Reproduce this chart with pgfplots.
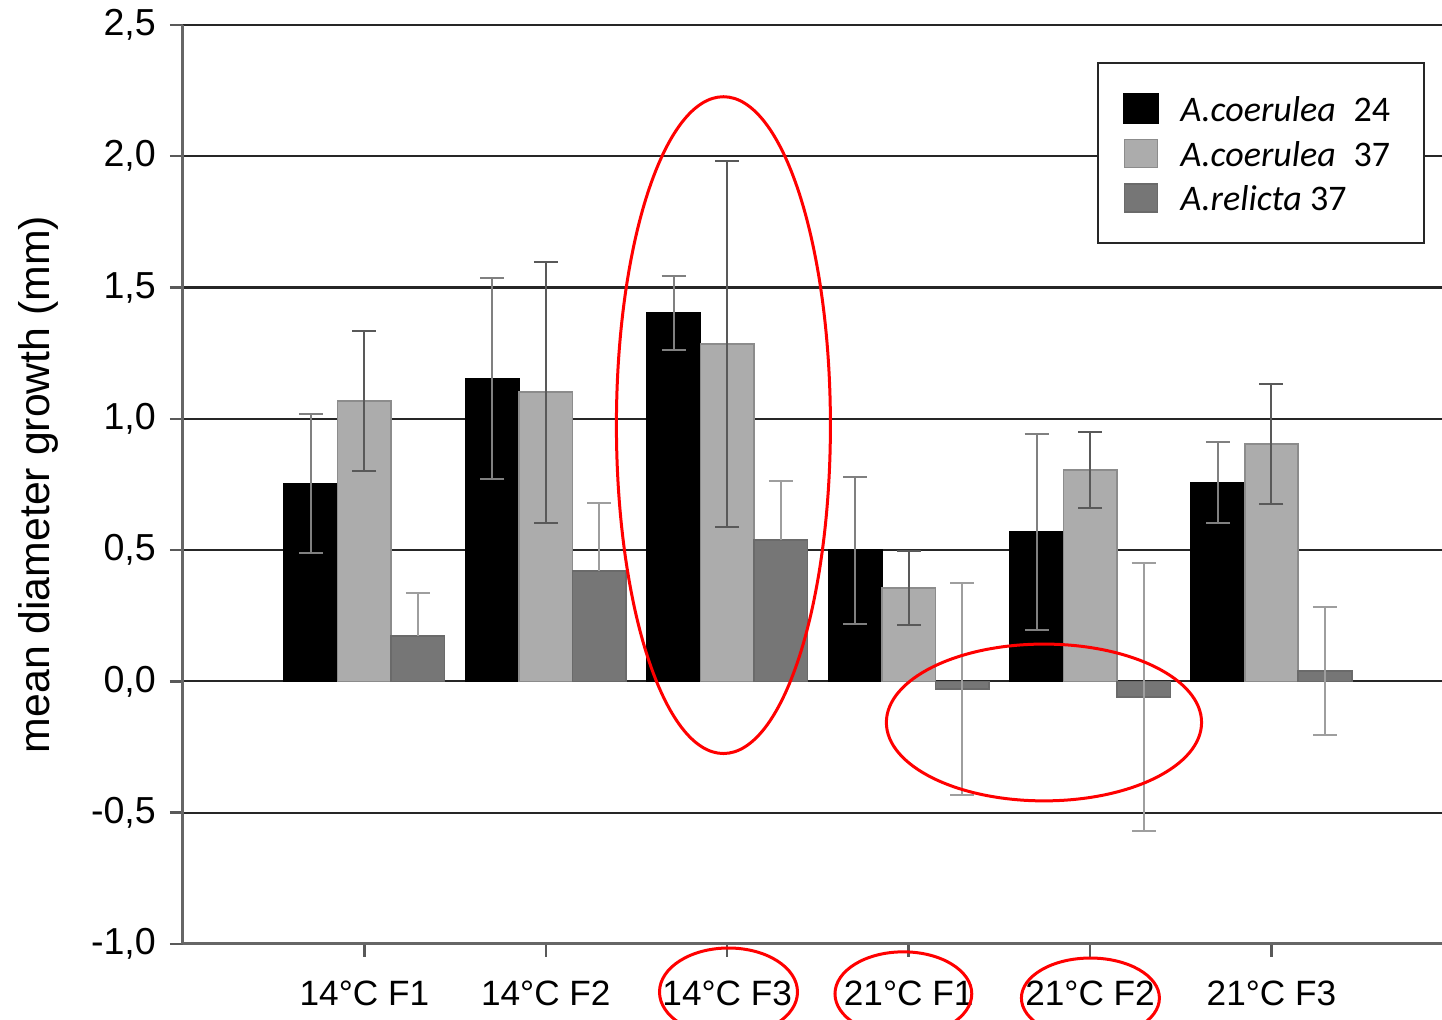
\documentclass[border=0pt]{standalone}
\usepackage{pgfplots}
\pgfplotsset{compat=1.18}
\usepackage{fontspec}
\setmainfont{Liberation Sans}
\newfontfamily\legfont{Carlito}
\definecolor{lg}{RGB}{172,172,172}
\definecolor{dg}{RGB}{118,118,118}
\pgfplotsset{
  mybar/.style={ybar, bar width=0.295, bar shift=0pt,
    legend image code/.code={\fill[##1] (0pt,-3.5pt) rectangle (8.25pt,3.5pt); \path (13.75pt,0pt);}},
}
\begin{document}
\begin{tikzpicture}[x=1pt,y=1pt]
\begin{axis}[
  scale only axis,
  width=314.75pt, height=229.75pt,
  xmin=-1, xmax=5.94,
  ymin=-1, ymax=2.5,
  axis lines*=left,
  axis line style={draw=black!60, line width=0.75pt},
  clip=false,
  ytick={-1,-0.5,0,0.5,1,1.5,2,2.5},
  ymajorgrids,
  major grid style={black!85, line width=0.55pt},
  xtick={0,1,2,3,4,5},
  xticklabels={14°C F1,14°C F2,14°C F3,21°C F1,21°C F2,21°C F3},
  tick align=outside,
  major tick length=3.25pt,
  tick style={black!65, line width=0.6pt},
  yticklabel style={font=\fontsize{9.4}{11}\selectfont,
    /pgf/number format/.cd, fixed, fixed zerofill, precision=1, use comma, assume math mode=true},
  xticklabel style={font=\fontsize{8.8}{11}\selectfont, yshift=-2.5pt},
  ylabel={mean diameter growth (mm)},
  ylabel style={font=\fontsize{10.7}{12}\selectfont, at={(axis description cs:-0.1152,0.5)}, anchor=center},
  legend style={at={(rel axis cs:0.726,0.9597)}, anchor=north west,
    draw=black!85, line width=0.6pt,
    font=\legfont\fontsize{9}{10}\selectfont,
    inner xsep=6.25pt, inner ysep=7.5pt, row sep=3.75pt,
    nodes={inner sep=0pt, text height=6.3pt, text depth=0pt}},
  legend cell align=left,
]
\addplot[mybar, fill=black, draw=black,
  error bars/.cd, y dir=both, y explicit,
  error bar style={color=black!50, line width=0.5pt},
  error mark options={rotate=90, color=black!50, mark size=3pt, line width=0.5pt}]
  coordinates {(-0.295,0.754) +- (0,0.265) (0.705,1.153) +- (0,0.383) (1.705,1.403) +- (0,0.141)
               (2.705,0.50) +- (0,0.28) (3.705,0.569) +- (0,0.373) (4.705,0.757) +- (0,0.155)};
\addlegendentry{\textit{A.coerulea}\hspace{2.4pt} 24\rule{2.25pt}{0pt}}
\addplot[mybar, fill=lg, draw=black!45, line width=0.4pt,
  error bars/.cd, y dir=both, y explicit,
  error bar style={color=black!65, line width=0.5pt},
  error mark options={rotate=90, color=black!65, mark size=3pt, line width=0.5pt}]
  coordinates {(0,1.068) +- (0,0.265) (1,1.102) +- (0,0.497) (2,1.285) +- (0,0.697)
               (3,0.356) +- (0,0.141) (4,0.805) +- (0,0.143) (5,0.904) +- (0,0.23)};
\addlegendentry{\textit{A.coerulea}\hspace{2.4pt} 37\rule{2.25pt}{0pt}}
\addplot[mybar, fill=dg, draw=dg!90!black, line width=0.4pt,
  error bars/.cd, y dir=plus, y explicit,
  error bar style={color=black!38, line width=0.5pt},
  error mark options={rotate=90, color=black!38, mark size=3pt, line width=0.5pt}]
  coordinates {(0.295,0.173) +- (0,0.163) (1.295,0.42) +- (0,0.259) (2.295,0.538) +- (0,0.225)};
\addlegendentry{\textit{A.relicta} 37}
\addplot[mybar, fill=dg, draw=dg!90!black, line width=0.4pt, forget plot,
  error bars/.cd, y dir=both, y explicit,
  error bar style={color=black!38, line width=0.5pt},
  error mark options={rotate=90, color=black!38, mark size=3pt, line width=0.5pt}]
  coordinates {(3.295,-0.029) +- (0,0.404) (4.295,-0.06) +- (0,0.51) (5.295,0.04) +- (0,0.245)};
\coordinate (bl) at (rel axis cs:0,0);
\coordinate (tr) at (rel axis cs:1,1);
\draw[red, line width=0.75pt] (axis cs:1.979,0.976) ellipse [x radius=26.75pt, y radius=82.1pt];
\draw[red, line width=0.75pt] (axis cs:3.746,-0.1565) ellipse [x radius=39.4pt, y radius=19.6pt];
\draw[red, line width=0.75pt] (axis cs:2.007,-1.183) ellipse [x radius=17.25pt, y radius=11pt];
\draw[red, line width=0.75pt] (axis cs:2.971,-1.190) ellipse [x radius=17.1pt, y radius=10.5pt];
\draw[red, line width=0.75pt] (axis cs:4.002,-1.206) ellipse [x radius=17.25pt, y radius=10pt];
\end{axis}
\pgfresetboundingbox
\path[use as bounding box] ([xshift=-45.75pt,yshift=-19pt]bl) rectangle ([yshift=6.25pt]tr);
\end{tikzpicture}
\end{document}
